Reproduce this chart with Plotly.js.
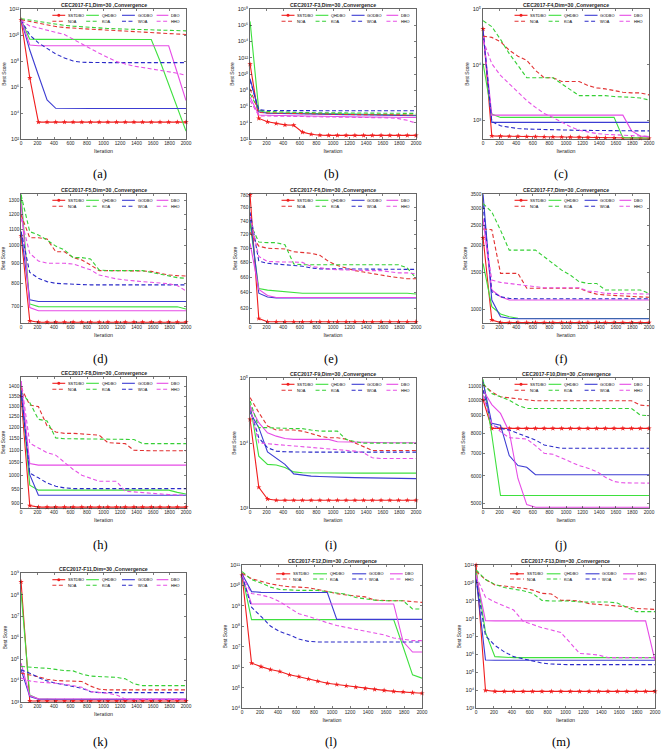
<!DOCTYPE html>
<html><head><meta charset="utf-8">
<script src="https://cdn.plot.ly/plotly-3.0.1.min.js"></script>
<style>html,body{margin:0;padding:0;background:#fff}#chart{width:669px;height:756px}</style>
</head><body><div id="chart"></div>
<script>
// ---------------- data ----------------
const ITER = [1,106,211,316,421,527,632,737,842,948,1053,1158,1264,1369,1474,1579,1685,1790,1895,2000];
const X_TICKS = [0,200,400,600,800,1000,1200,1400,1600,1800,2000];
const ALGOS = ['SSTDBO','QHDBO','GODBO','DBO','NOA','KOA','WOA','HHO'];

const F1_SSTDBO = [1.5e11,5e6,2e3,2e3,2e3,2e3,2e3,2e3,2e3,2e3,2e3,2e3,2e3,2e3,2e3,2e3,2e3,2e3,2e3,2e3];
const F1_QHDBO  = [1.5e11,4.7e9,4.6e9,4.6e9,4.6e9,4.6e9,4.6e9,4.6e9,4.6e9,4.6e9,4.6e9,4.6e9,4.6e9,4.6e9,4.6e9,4.5e9,1e8,1.5e6,2.5e4,4e2];
const F1_GODBO  = [1.5e11,7e8,8e6,1e5,2.3e4,2.2e4,2.2e4,2.2e4,2.2e4,2.2e4,2.2e4,2.2e4,2.2e4,2.2e4,2.2e4,2.2e4,2.2e4,2.2e4,2.2e4,2.2e4];
const F1_DBO    = [1.5e11,1.7e9,1.5e9,1.5e9,1.5e9,1.5e9,1.5e9,1.5e9,1.5e9,1.5e9,1.5e9,1.5e9,1.5e9,1.5e9,1.5e9,1.5e9,1.5e9,1.5e9,1.2e7,9e4];
const F1_NOA    = [1.5e11,1.1e11,8e10,6e10,4.5e10,3.8e10,3.3e10,3e10,2.8e10,2.6e10,2.4e10,2.2e10,2e10,1.9e10,1.8e10,1.6e10,1.4e10,1.25e10,1.15e10,1.1e10];
const F1_KOA    = [1.8e11,1.4e11,1.1e11,8e10,6.5e10,5.5e10,4.8e10,4.2e10,3.8e10,3.5e10,3.2e10,3e10,2.8e10,2.7e10,2.6e10,2.5e10,2.4e10,2.3e10,2.2e10,2.1e10];
const F1_WOA    = [1.5e11,1e10,2.5e9,9e8,3.5e8,1.7e8,1e8,8e7,7.5e7,7.5e7,7.5e7,7.5e7,7.5e7,7.5e7,7.5e7,7.5e7,7.5e7,7.5e7,7.5e7,7.5e7];
const F1_HHO    = [1.3e11,5e10,3.5e10,2.5e10,1.6e10,1.1e10,5e9,2e9,9e8,4e8,1.9e8,9e7,6e7,4e7,3.2e7,2.5e7,2e7,1.65e7,1.15e7,8e6];

const F3_SSTDBO = [1.6e11,3.4e4,1.3e4,8e3,5.5e3,5e3,7e2,3.8e2,2.9e2,2.8e2,2.8e2,2.8e2,2.8e2,2.8e2,2.8e2,2.8e2,2.8e2,2.8e2,2.8e2,2.8e2];
const F3_QHDBO  = [3e16,3.1e5,1.7e5,1.6e5,1.55e5,1.5e5,1.45e5,1.4e5,1.35e5,1.3e5,1.25e5,1.2e5,1.15e5,1.1e5,1.05e5,1e5,9.5e4,9e4,8.7e4,8.5e4];
const F3_GODBO  = [2.7e9,2.3e5,1.5e5,1.4e5,1.35e5,1.3e5,1.25e5,1.2e5,1.15e5,1.1e5,1.05e5,1e5,9.5e4,9e4,8.5e4,8e4,7.8e4,7.5e4,7.3e4,7.2e4];
const F3_DBO    = [1.4e7,9e4,8.5e4,8e4,7.5e4,7e4,6.8e4,6.5e4,6.2e4,6e4,5.8e4,5.6e4,5.4e4,5.2e4,5e4,4.9e4,4.8e4,4.7e4,4.6e4,4.5e4];
const F3_NOA    = [1.5e8,1.9e5,1.6e5,1.5e5,1.4e5,1.35e5,1.3e5,1.25e5,1.2e5,1.15e5,1.1e5,1.05e5,1e5,1e5,9.5e4,9.5e4,9e4,9e4,9e4,9e4];
const F3_KOA    = [3.6e7,3.7e5,2.5e5,2.2e5,2e5,1.9e5,1.8e5,1.75e5,1.7e5,1.65e5,1.6e5,1.55e5,1.5e5,1.5e5,1.45e5,1.45e5,1.4e5,1.4e5,1.4e5,1.4e5];
const F3_WOA    = [1.7e9,4e5,3.2e5,3.1e5,3e5,3e5,3e5,3e5,3e5,3e5,3e5,3e5,3e5,3e5,3e5,3e5,3e5,3e5,3e5,3e5];
const F3_HHO    = [5.4e6,7.2e4,6.8e4,6.5e4,6.3e4,6.1e4,6e4,5.8e4,5.6e4,5.4e4,5.2e4,5e4,4.9e4,4.8e4,4.7e4,4.5e4,4e4,3.2e4,2e4,9e3];

const F4_SSTDBO = [4.4e4,520,515,512,508,505,502,500,498,496,494,492,490,485,480,478,476,474,472,470];
const F4_QHDBO  = [1.05e4,1290,1120,1120,1120,1120,1120,1120,1120,1120,1120,1120,1120,1120,1120,1120,484,480,478,476];
const F4_GODBO  = [4.2e4,910,910,910,910,910,910,910,910,910,910,910,910,910,910,910,910,910,910,910];
const F4_DBO    = [3.9e4,1230,1230,1230,1230,1230,1230,1230,1230,1230,1230,1230,1230,1230,1230,1230,1230,640,519,500];
const F4_NOA    = [3.27e4,3.1e4,2.58e4,1.82e4,1.42e4,1.2e4,7.9e3,5.8e3,5.8e3,4.98e3,4.98e3,4.98e3,4.2e3,3.82e3,3.66e3,3.41e3,3.18e3,3.1e3,3.1e3,2.85e3];
const F4_KOA    = [6.2e4,4.84e4,2.85e4,1.58e4,9.7e3,5.8e3,5.8e3,5.8e3,5.8e3,4.52e3,3.51e3,2.77e3,2.77e3,2.77e3,2.77e3,2.66e3,2.66e3,2.58e3,2.51e3,2.31e3];
const F4_WOA    = [3.9e4,946,789,736,705,690,680,675,670,665,660,655,650,648,646,644,642,640,640,640];
const F4_HHO    = [2.77e4,1.04e4,6.4e3,4.52e3,3.18e3,2.25e3,1.7e3,1.32e3,1.12e3,907,757,658,614,573,556,541,533,526,519,512];

const F5_SSTDBO = [1059,644,639,639,639,639,639,639,639,639,639,639,639,639,639,639,639,639,639,639];
const F5_QHDBO  = [1350,711,700,700,700,700,700,700,700,700,700,700,700,700,700,700,700,700,699,690];
const F5_GODBO  = [1085,728,721,721,721,721,721,721,721,721,721,721,721,721,721,721,721,721,721,721];
const F5_DBO    = [1280,696,683,683,683,683,683,683,683,683,683,683,683,683,683,683,683,683,683,683];
const F5_NOA    = [1196,1047,1047,1039,965,965,932,919,893,864,864,864,864,864,862,860,850,842,839,837];
const F5_KOA    = [1344,1085,1064,1033,997,975,932,932,925,867,864,864,864,864,864,855,846,834,829,826];
const F5_WOA    = [1085,855,826,810,802,799,798,796,795,795,795,795,795,795,795,795,795,795,795,795];
const F5_HHO    = [1173,956,914,902,902,902,898,884,868,842,831,823,818,813,810,807,805,800,792,767];

const F6_SSTDBO = [780,607,603,603,603,603,603,603,603,603,603,603,603,603,603,603,603,603,603,603];
const F6_QHDBO  = [736,645,643,642,641,640,639,639,639,639,639,639,639,639,639,639,639,639,639,638];
const F6_GODBO  = [746,639,634,633,633,633,633,633,633,633,633,633,633,633,633,633,633,633,633,633];
const F6_DBO    = [707,644,636,633.5,633.5,633.5,633.5,633.5,633.5,633.5,633.5,633.5,633.5,633.5,633.5,633.5,633.5,633.5,633.5,633.5];
const F6_NOA    = [723,703,700,700,699,695,694,693,690,681.5,676,672.5,669,667,664.5,663,661,659,658,658];
const F6_KOA    = [736,709,708,708,705,678,677,677,677,677,677,677,677,677,677,677,677,677,672.5,659];
const F6_WOA    = [753,682,679,678,677,676,675,672.5,671.4,671.4,671.4,671.4,671.4,671.4,671.4,671.4,670.6,670.6,670.6,670.6];
const F6_HHO    = [746,688.5,681.5,680.7,680.7,680.7,680.2,674.7,672.5,671,670.2,669.7,669.3,668.9,668.9,668.9,667.2,665.9,665.9,664.5];

const F7_SSTDBO = [2178,891,866,866,866,866,866,866,866,866,866,866,866,866,866,866,866,866,866,866];
const F7_QHDBO  = [1648,1029,951,923,907,905,905,905,905,905,905,905,905,905,905,905,905,905,905,905];
const F7_GODBO  = [3500,1107,923,907,903,903,903,903,903,903,903,903,903,903,903,903,903,903,903,903];
const F7_DBO    = [2687,1234,1147,1107,1107,1107,1107,1107,1107,1107,1107,1107,1107,1107,1107,1107,1107,1107,1107,1107];
const F7_NOA    = [2400,2380,1480,1480,1480,1259,1259,1259,1259,1259,1259,1259,1211,1180,1170,1162,1155,1150,1145,1140];
const F7_KOA    = [3162,2888,2367,1905,1905,1905,1905,1772,1648,1533,1452,1351,1326,1326,1234,1234,1234,1234,1234,1190];
const F7_WOA    = [3106,1211,1147,1127,1122,1122,1122,1122,1122,1122,1122,1122,1122,1122,1122,1122,1122,1122,1122,1122];
const F7_HHO    = [2591,1375,1341,1326,1312,1293,1279,1265,1265,1265,1265,1265,1220,1211,1190,1190,1190,1190,1181,1181];

const F8_SSTDBO = [1351,892,887,887,887,887,887,887,887,887,887,887,887,887,887,887,887,887,887,887];
const F8_QHDBO  = [1400,964,946,946,946,946,946,946,946,946,946,946,946,946,946,946,946,946,938,932];
const F8_GODBO  = [1380,1003,928,928,928,928,928,928,928,928,928,928,928,928,928,928,928,928,928,928];
const F8_DBO    = [1430,1046,1040,1040,1040,1040,1040,1040,1040,1040,1040,1040,1040,1040,1040,1040,1040,1040,1040,1040];
const F8_NOA    = [1395,1306,1298,1206,1179,1173,1173,1171,1168,1165,1132,1129,1128,1100,1098,1098,1098,1098,1098,1098];
const F8_KOA    = [1369,1318,1237,1229,1153,1149,1149,1149,1149,1149,1146,1146,1146,1146,1128,1128,1128,1128,1128,1128];
const F8_WOA    = [1380,1009,991,972,960,954,951.5,951.5,951.5,951.5,951.5,951.5,951.5,951.5,951.5,951.5,951.5,951.5,951.5,951.5];
const F8_HHO    = [1430,1130,1110,1090,1080,1049,1023,1001,988,978,978,978,942,939.5,936,933.6,930,930,929,928];

const F9_SSTDBO = [2.32e4,2087,1377,1314,1314,1314,1314,1314,1314,1314,1314,1314,1314,1314,1314,1314,1314,1314,1314,1314];
const F9_QHDBO  = [3.96e4,6300,4700,4600,4200,3600,3500,3480,3470,3460,3460,3460,3460,3450,3450,3450,3450,3450,3450,3450];
const F9_GODBO  = [2.95e4,1.73e4,7300,5900,4700,3350,3200,3100,3050,3000,2980,2960,2940,2920,2900,2880,2870,2860,2850,2840];
const F9_DBO    = [3.73e4,2.06e4,1.44e4,1.28e4,1.18e4,1.14e4,1.14e4,1.14e4,1.14e4,1.14e4,1.05e4,1.04e4,1.03e4,1.02e4,1.01e4,1.01e4,1.01e4,1.01e4,1.01e4,1.01e4];
const F9_NOA    = [5.02e4,2.95e4,1.83e4,1.59e4,1.59e4,1.59e4,1.53e4,1.39e4,1.28e4,1.21e4,1.21e4,1.15e4,1.01e4,8773,7703,7703,7703,7703,7703,7703];
const F9_KOA    = [4.46e4,1.73e4,1.73e4,1.69e4,1.69e4,1.67e4,1.67e4,1.59e4,1.53e4,1.53e4,1.53e4,1.14e4,1.05e4,1.0e4,1.0e4,1.0e4,1.0e4,1.0e4,1.0e4,1.0e4];
const F9_WOA    = [3.32e4,1.21e4,8480,7520,7343,7260,7260,7260,7260,7260,7260,7260,7260,7260,7260,7260,7260,7260,7260,7260];
const F9_HHO    = [3.52e4,1.01e4,9770,9530,9306,8990,8773,8480,8280,8170,7980,7790,7520,7100,5934,5797,5797,5797,5797,5797];

const F10_SSTDBO = [10016,8265,8265,8265,8265,8265,8265,8265,8265,8265,8265,8265,8265,8265,8265,8265,8265,8265,8265,8265];
const F10_QHDBO  = [11500,7906,5263,5263,5263,5263,5263,5263,5263,5263,5263,5263,5263,5263,5263,5263,5263,5263,5263,5263];
const F10_GODBO  = [11300,8547,8446,6883,6435,6360,6050,6050,6050,6050,6050,6050,6050,6050,6050,6050,6050,6050,6050,6050];
const F10_DBO    = [10686,9700,9140,8083,5900,4950,4860,4860,4860,4860,4860,4860,4860,4860,4860,4860,4860,4860,4860,4860];
const F10_NOA    = [11100,10566,10219,10151,10061,9993,9949,9949,9949,9949,9949,9949,9949,9949,9949,9949,9949,9949,9663,9620];
const F10_KOA    = [11175,10447,10219,9993,9663,9450,9450,9450,9450,9450,9450,9450,9450,9450,9450,9450,9450,9450,9036,8996];
const F10_WOA    = [10686,8451,8265,8174,7993,7816,7643,7392,7293,7228,7228,7228,7228,7228,7228,7228,7228,7228,7228,7228];
const F10_HHO    = [10332,8547,8083,7765,7731,7696,7359,6990,6944,6761,6581,6436,6322,6182,5950,5780,5730,5717,5717,5717];

const F11_SSTDBO = [3.9e8,1120,1120,1120,1120,1120,1120,1120,1120,1120,1120,1120,1120,1120,1120,1120,1120,1120,1120,1120];
const F11_QHDBO  = [1.24e8,2128,1384,1300,1300,1300,1300,1300,1300,1300,1300,1300,1300,1300,1300,1300,1300,1300,1300,1300];
const F11_GODBO  = [3.16e4,1778,1334,1330,1330,1330,1330,1330,1330,1330,1330,1330,1330,1330,1330,1330,1330,1330,1330,1330];
const F11_DBO    = [6.5e4,1981,1400,1380,1380,1380,1380,1380,1380,1380,1380,1380,1380,1380,1380,1380,1380,1380,1380,1380];
const F11_NOA    = [2.2e4,1.84e4,1.5e4,1.15e4,1e4,9.6e3,9.3e3,9e3,5.5e3,3.9e3,3.65e3,3.65e3,3.65e3,3.65e3,3.65e3,3.65e3,3.65e3,3.65e3,3.65e3,3.65e3];
const F11_KOA    = [4.5e4,4.1e4,3.9e4,3.7e4,3.2e4,2.9e4,2.8e4,2e4,1.6e4,1.5e4,1.45e4,1.4e4,1.2e4,7e3,5.8e3,5.8e3,5.8e3,5.8e3,5.8e3,5.8e3];
const F11_WOA    = [3.16e4,2.2e4,1.38e4,9.6e3,7.5e3,6.26e3,5.2e3,4.37e3,3.05e3,2.74e3,2.74e3,2.74e3,2.74e3,2.74e3,2.74e3,2.74e3,2.74e3,2.74e3,2.74e3,2.74e3];
const F11_HHO    = [1.29e4,9.6e3,8.36e3,8.06e3,7.5e3,6.73e3,5.8e3,4.87e3,3.05e3,2.84e3,2.55e3,2.13e3,1.38e3,1.33e3,1.33e3,1.33e3,1.33e3,1.33e3,1.33e3,1.33e3];

const F12_SSTDBO = [3.1e10,1.58e6,1.06e6,7.6e5,6.1e5,4.23e5,3.4e5,2.63e5,2.03e5,1.63e5,1.41e5,1.22e5,1.05e5,9.1e4,8.15e4,7.3e4,6.5e4,6.1e4,5.65e4,5.25e4];
const F12_QHDBO  = [3.3e10,2.13e8,2.13e8,2.13e8,2.13e8,2.13e8,2.13e8,2.13e8,2.13e8,2.13e8,2.13e8,2.13e8,2.13e8,2.13e8,2.13e8,2.13e8,2.13e8,1e7,4.2e5,2.9e5];
const F12_GODBO  = [3.6e10,5e9,4.6e9,4.6e9,4.6e9,4.6e9,4.6e9,4.6e9,4.5e9,4.5e9,2.2e8,2.2e8,2.2e8,2.2e8,2.2e8,2.2e8,2.2e8,2.2e8,2.2e8,2.2e8];
const F12_DBO    = [2.8e10,1.24e9,1.24e9,1.24e9,1.24e9,1.24e9,1.24e9,1.24e9,1.24e9,1.24e9,1.24e9,1.24e9,1.24e9,1.24e9,1.24e9,1.24e9,1.24e9,1.8e7,5.5e6,5.5e6];
const F12_NOA    = [4e10,2.15e10,1.6e10,1.2e10,9.96e9,8.6e9,8.3e9,7.7e9,6.4e9,4.97e9,3.99e9,3.44e9,3.09e9,2.77e9,1.92e9,1.78e9,1.78e9,1.78e9,1.66e9,1.49e9];
const F12_KOA    = [4.8e10,1.93e10,1.34e10,8.3e9,6.4e9,5.97e9,5.75e9,5.75e9,5.75e9,4.97e9,4.46e9,3.71e9,2.57e9,2.14e9,1.92e9,1.78e9,1.78e9,1.78e9,7.1e8,7.1e8];
const F12_WOA    = [3.1e10,8.6e8,3.07e8,1.03e8,5.5e7,3.8e7,2.37e7,1.84e7,1.71e7,1.71e7,1.71e7,1.71e7,1.71e7,1.71e7,1.71e7,1.71e7,1.71e7,1.71e7,1.71e7,1.71e7];
const F12_HHO    = [3.1e10,4e9,3.4e9,2.6e9,1.6e9,8e8,4.1e8,3.1e8,2.1e8,1.5e8,1.1e8,8.9e7,7.4e7,6e7,4.9e7,3.8e7,2.7e7,2.3e7,2e7,2e7];

const F13_SSTDBO = [1e11,9.7e3,8.5e3,8.5e3,8.5e3,8.5e3,8.5e3,8.5e3,8.5e3,8.5e3,8.5e3,8.5e3,8.5e3,8.5e3,8.5e3,8.5e3,8.5e3,8.5e3,8.5e3,8.5e3];
const F13_QHDBO  = [4.4e10,1.7e7,7.5e5,6.8e5,6.6e5,6.6e5,6.6e5,6.6e5,6.6e5,6.6e5,6.6e5,6.6e5,6.6e5,6.6e5,6.6e5,6.6e5,6.6e5,6.6e5,6.6e5,6.6e5];
const F13_GODBO  = [1.9e10,4.9e5,4.7e5,4.7e5,4.7e5,4.7e5,4.7e5,4.7e5,4.7e5,4.7e5,4.7e5,4.7e5,4.7e5,4.7e5,4.7e5,4.7e5,4.7e5,4.7e5,4.7e5,4.7e5];
const F13_DBO    = [2.9e10,7.8e7,7.5e7,7.5e7,7.5e7,7.5e7,7.5e7,7.5e7,7.5e7,7.5e7,7.5e7,7.5e7,7.5e7,7.5e7,7.5e7,7.5e7,7.5e7,7.5e7,7.5e7,4.5e5];
const F13_NOA    = [4.37e10,1.55e10,7.7e9,6.8e9,5.5e9,5.07e9,3.96e9,2.61e9,2.4e9,1.05e9,1.05e9,9.7e8,6.95e8,6.4e8,5.65e8,4.99e8,4.59e8,3.73e8,3.44e8,3.3e8];
const F13_KOA    = [5.37e10,1.55e10,8.3e9,5.5e9,4.48e9,3.64e9,2.61e9,1.05e9,9.7e8,9.7e8,9.7e8,8.55e8,8.55e8,8.55e8,8.55e8,7.55e8,4.5e8,2.47e8,2.47e8,2.47e8];
const F13_WOA    = [1.55e10,1.1e7,3.19e6,1.39e6,7.5e5,5.6e5,4.02e5,3.27e5,2.88e5,2.66e5,2.66e5,2.66e5,2.66e5,2.66e5,2.66e5,2.66e5,2.66e5,2.66e5,2.66e5,2.66e5];
const F13_HHO    = [2.34e10,1.59e9,8.55e8,4.99e8,3.03e8,7.1e7,4.7e7,3.11e7,2.33e7,1.67e7,4.44e6,1.13e6,1.04e6,9.2e5,6.6e5,6.6e5,6.6e5,6.6e5,6.6e5,6.6e5];

// y tick values (linear-labelled panels) and tick exponents (power-labelled panels)
const Y_TICKS_F5  = [700,800,900,1000,1100,1200,1300];
const Y_TICKS_F6  = [620,640,660,680,700,720,740,760,780];
const Y_TICKS_F7  = [1000,1500,2000,2500,3000,3500];
const Y_TICKS_F8  = [900,950,1000,1050,1100,1150,1200,1250,1300,1350,1400];
const Y_TICKS_F10 = [5000,6000,7000,8000,9000,10000,11000];
const Y_EXP_F1  = [2,4,6,8,10,12];
const Y_EXP_F3  = [2,4,6,8,10,12,14,16,18];
const Y_EXP_F4  = [3,4,5];
const Y_EXP_F9  = [3,4,5];
const Y_EXP_F11 = [3,4,5,6,7,8,9];
const Y_EXP_F12 = [4,5,6,7,8,9,10,11];
const Y_EXP_F13 = [3,4,5,6,7,8,9,10,11];

// ---------------- panels (layout config) ----------------
const L10 = Math.log10;
const PANELS = [
 {f:'F1', cap:'(a)', rect:[21,186,9,139],   yr:[2,12.003], ex:Y_EXP_F1, s:[F1_SSTDBO,F1_QHDBO,F1_GODBO,F1_DBO,F1_NOA,F1_KOA,F1_WOA,F1_HHO], cxy:[100,174], lg:[6.3,12.3]},
 {f:'F3', cap:'(b)', rect:[250,416,9,139],  yr:[2,18.003], ex:Y_EXP_F3, s:[F3_SSTDBO,F3_QHDBO,F3_GODBO,F3_DBO,F3_NOA,F3_KOA,F3_WOA,F3_HHO], cxy:[331,174], lg:[6.3,12.3]},
 {f:'F4', cap:'(c)', rect:[483,649,9,139],  yr:[L10(457),5.003], ex:Y_EXP_F4, s:[F4_SSTDBO,F4_QHDBO,F4_GODBO,F4_DBO,F4_NOA,F4_KOA,F4_WOA,F4_HHO], cxy:[561,174], lg:[6.3,12.3]},
 {f:'F5', cap:'(d)', rect:[21,186,194,323], yr:[L10(636),L10(1352)], tv:Y_TICKS_F5, s:[F5_SSTDBO,F5_QHDBO,F5_GODBO,F5_DBO,F5_NOA,F5_KOA,F5_WOA,F5_HHO], cxy:[100,359], lg:[6.3,12.3]},
 {f:'F6', cap:'(e)', rect:[250,416,194,323],yr:[L10(601.5),L10(781.5)], tv:Y_TICKS_F6, s:[F6_SSTDBO,F6_QHDBO,F6_GODBO,F6_DBO,F6_NOA,F6_KOA,F6_WOA,F6_HHO], cxy:[331,359], lg:[6.3,12.3]},
 {f:'F7', cap:'(f)', rect:[483,649,194,323],yr:[L10(862),L10(3510)], tv:Y_TICKS_F7, s:[F7_SSTDBO,F7_QHDBO,F7_GODBO,F7_DBO,F7_NOA,F7_KOA,F7_WOA,F7_HHO], cxy:[561,359], lg:[6.3,12.3]},
 {f:'F8', cap:'(h)', rect:[21,186,377,508], yr:[L10(884),L10(1452)], tv:Y_TICKS_F8, s:[F8_SSTDBO,F8_QHDBO,F8_GODBO,F8_DBO,F8_NOA,F8_KOA,F8_WOA,F8_HHO], cxy:[100,545], lg:[6.3,12.3]},
 {f:'F9', cap:'(i)', rect:[250,416,378,508],yr:[3,5.003], ex:Y_EXP_F9, s:[F9_SSTDBO,F9_QHDBO,F9_GODBO,F9_DBO,F9_NOA,F9_KOA,F9_WOA,F9_HHO], cxy:[331,545], lg:[6.3,12.3]},
 {f:'F10',cap:'(j)', rect:[483,649,378,508],yr:[L10(4837),L10(11600)], tv:Y_TICKS_F10, s:[F10_SSTDBO,F10_QHDBO,F10_GODBO,F10_DBO,F10_NOA,F10_KOA,F10_WOA,F10_HHO], cxy:[561,545], lg:[6.3,12.3]},
 {f:'F11',cap:'(k)', rect:[21,186,573,702], yr:[3,9.003], ex:Y_EXP_F11, s:[F11_SSTDBO,F11_QHDBO,F11_GODBO,F11_DBO,F11_NOA,F11_KOA,F11_WOA,F11_HHO], cxy:[100,742], lg:[6.7,12.2]},
 {f:'F12',cap:'(l)', rect:[242,422,565,708],yr:[4,11.003], ex:Y_EXP_F12, s:[F12_SSTDBO,F12_QHDBO,F12_GODBO,F12_DBO,F12_NOA,F12_KOA,F12_WOA,F12_HHO], cxy:[331,742], lg:[8.8,14]},
 {f:'F13',cap:'(m)', rect:[476,655,565,708],yr:[3,11.003], ex:Y_EXP_F13, s:[F13_SSTDBO,F13_QHDBO,F13_GODBO,F13_DBO,F13_NOA,F13_KOA,F13_WOA,F13_HHO], cxy:[561,742], lg:[8.8,14]}
];

// ---------------- styles ----------------
const W = 669, H = 756;
const AXC = '#262626';
const FONT = 'Liberation Sans, Arial, Helvetica, sans-serif';
const COLORS = ['#f01e1e','#3ee03e','#3c3cd2','#e64be6','#e23232','#35cf35','#2a2ac8','#e650e6'];
const DASH = '4px,2.5px';
const LINE_W = 1.1;
const LEG_LINE = [[0.19,0.268],[0.395,0.472],[0.612,0.69],[0.822,0.893]];
const LEG_TEXT = [0.277,0.484,0.7,0.902];
const SUP = ['⁰','¹','²','³','⁴','⁵','⁶','⁷','⁸','⁹'];
const supText = e => '10' + String(e).split('').map(d => SUP[+d]).join('');

const traces = [], shapes = [], annotations = [];
const layout = {
  width: W, height: H, margin:{l:0,r:0,t:0,b:0},
  paper_bgcolor:'#fff', plot_bgcolor:'#fff', showlegend:false,
  font:{family:FONT, color:AXC}
};

PANELS.forEach((p, n) => {
  const sfx = n === 0 ? '' : String(n + 1);
  const [l, r, t, b] = p.rect;
  const pw = r - l, ph = b - t;
  layout['xaxis' + sfx] = {
    domain:[l / W, r / W], anchor:'y' + sfx, range:[0, 2000],
    tickmode:'array', tickvals:X_TICKS, ticktext:X_TICKS.map(String),
    ticks:'inside', ticklen:2, tickwidth:0.6, tickcolor:AXC,
    showline:true, linecolor:AXC, linewidth:0.7, mirror:'ticks',
    showgrid:false, zeroline:false,
    tickfont:{size:4.8, color:AXC, family:FONT},
    title:{text:'Iteration', font:{size:5.3, color:AXC, family:FONT}, standoff:3}
  };
  const ya = {
    domain:[1 - b / H, 1 - t / H], anchor:'x' + sfx, type:'log', range:p.yr,
    ticks:'inside', ticklen:2, tickwidth:0.6, tickcolor:AXC,
    showline:true, linecolor:AXC, linewidth:0.7, mirror:'ticks',
    showgrid:false, zeroline:false, tickmode:'array',
    title:{text:'Best Score', font:{size:4.8, color:AXC, family:FONT}, standoff:2}
  };
  if (p.ex) {
    ya.tickvals = p.ex.map(e => Math.pow(10, e));
    ya.ticktext = p.ex.map(supText);
    ya.tickfont = {size:5.6, color:AXC, family:FONT};
  } else {
    ya.tickvals = p.tv; ya.ticktext = p.tv.map(String);
    ya.tickfont = {size:4.8, color:AXC, family:FONT};
  }
  layout['yaxis' + sfx] = ya;

  p.s.forEach((vals, j) => {
    const tr = {
      type:'scatter', x:ITER, y:vals, xaxis:'x' + sfx, yaxis:'y' + sfx, name:ALGOS[j],
      mode: j === 0 ? 'lines+markers' : 'lines',
      line:{color:COLORS[j], width:LINE_W, dash: j < 4 ? 'solid' : DASH},
      hoverinfo:'skip'
    };
    if (j === 0) { tr.marker = {symbol:'star', size:4, color:COLORS[0]}; tr.cliponaxis = false; }
    traces.push(tr);

    // legend entry
    const row = j < 4 ? 0 : 1, col = j % 4;
    const yy = 1 - p.lg[row] / ph;
    shapes.push({type:'line', xref:'x' + sfx + ' domain', yref:'y' + sfx + ' domain',
      x0:LEG_LINE[col][0], x1:LEG_LINE[col][1], y0:yy, y1:yy,
      line:{color:COLORS[j], width:LINE_W, dash: j < 4 ? 'solid' : DASH}});
    if (j === 0) {
      const cx = (LEG_LINE[0][0] + LEG_LINE[0][1]) / 2, rx = 1.5 / pw, ry = 1.5 / ph;
      shapes.push({type:'circle', xref:'x' + sfx + ' domain', yref:'y' + sfx + ' domain',
        x0:cx - rx, x1:cx + rx, y0:yy - ry, y1:yy + ry, fillcolor:COLORS[0], line:{width:0}});
    }
    annotations.push({xref:'x' + sfx + ' domain', yref:'y' + sfx + ' domain',
      x:LEG_TEXT[col], y:yy, xanchor:'left', yanchor:'middle', showarrow:false,
      text:ALGOS[j], font:{size:3.9, color:'#000', family:FONT}, borderpad:0});
  });

  // panel title
  annotations.push({xref:'paper', yref:'paper', x:(l + r) / 2 / W, y:1 - (t - 4.3) / H,
    xanchor:'center', yanchor:'middle', showarrow:false,
    text:'<b>CEC2017-' + p.f + ',Dim=30 ,Convergence</b>', font:{size:5.2, color:AXC, family:FONT}, borderpad:0});
  // caption
  annotations.push({xref:'paper', yref:'paper', x:p.cxy[0] / W, y:1 - p.cxy[1] / H,
    xanchor:'center', yanchor:'middle', showarrow:false,
    text:p.cap, font:{size:12.5, color:'#000', family:'Liberation Serif, Times New Roman, serif'}, borderpad:0});
});

layout.shapes = shapes;
layout.annotations = annotations;
Plotly.newPlot('chart', traces, layout, {staticPlot:true, displayModeBar:false});
</script>
</body></html>
